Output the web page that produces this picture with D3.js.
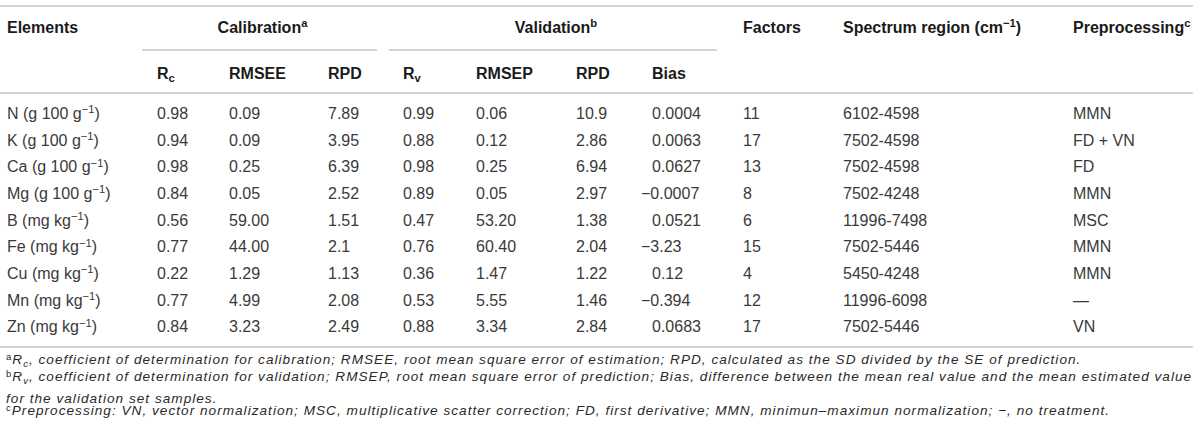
<!DOCTYPE html>
<html>
<head>
<meta charset="utf-8">
<script src="https://cdn.jsdelivr.net/npm/d3@7"></script>
<style>
  html, body { margin: 0; padding: 0; background: #fff; }
  svg { display: block; font-family: "Liberation Sans", Arial, Helvetica, sans-serif; }
</style>
</head>
<body>
<svg id="chart" width="1200" height="441"></svg>
<script>
// table values
const elements = ["N", "K", "Ca", "Mg", "B", "Fe", "Cu", "Mn", "Zn"];
const units = ["g 100 g", "g 100 g", "g 100 g", "g 100 g", "mg kg", "mg kg", "mg kg", "mg kg", "mg kg"];
const rc = ["0.98", "0.94", "0.98", "0.84", "0.56", "0.77", "0.22", "0.77", "0.84"];
const rmsee = ["0.09", "0.09", "0.25", "0.05", "59.00", "44.00", "1.29", "4.99", "3.23"];
const rpdCal = ["7.89", "3.95", "6.39", "2.52", "1.51", "2.1", "1.13", "2.08", "2.49"];
const rv = ["0.99", "0.88", "0.98", "0.89", "0.47", "0.76", "0.36", "0.53", "0.88"];
const rmsep = ["0.06", "0.12", "0.25", "0.05", "53.20", "60.40", "1.47", "5.55", "3.34"];
const rpdVal = ["10.9", "2.86", "6.94", "2.97", "1.38", "2.04", "1.22", "1.46", "2.84"];
const bias = ["0.0004", "0.0063", "0.0627", "\u22120.0007", "0.0521", "\u22123.23", "0.12", "\u22120.394", "0.0683"];
const factors = ["11", "17", "13", "8", "6", "15", "4", "12", "17"];
const spectrum = ["6102-4598", "7502-4598", "7502-4598", "7502-4248", "11996-7498", "7502-5446", "5450-4248", "11996-6098", "7502-5446"];
const preprocessing = ["MMN", "FD + VN", "FD", "MMN", "MSC", "MMN", "MMN", "\u2014", "VN"];

const groupLabels = [{text: "Calibration", sup: "a"}, {text: "Validation", sup: "b"}];

const footnotes = [
  [{t: "a", sup: true, upright: true}, {t: "R"}, {t: "c", sub: true}, {t: ", coefficient of determination for calibration; RMSEE, root mean square error of estimation; RPD, calculated as the SD divided by the SE of prediction."}],
  [{t: "b", sup: true, upright: true}, {t: "R"}, {t: "v", sub: true}, {t: ", coefficient of determination for validation; RMSEP, root mean square error of prediction; Bias, difference between the mean real value and the mean estimated value"}],
  [{t: "for the validation set samples."}],
  [{t: "c", sup: true, upright: true}, {t: "Preprocessing: VN, vector normalization; MSC, multiplicative scatter correction; FD, first derivative; MMN, minimun\u2013maximun normalization; \u2212, no treatment."}]
];

// column layout
const columns = [
  {key: "elements", head: [{t: "Elements"}], headRow: 0},
  {key: "rc", head: [{t: "R"}, {t: "c", sub: true}], values: rc},
  {key: "rmsee", head: [{t: "RMSEE"}], values: rmsee},
  {key: "rpdCal", head: [{t: "RPD"}], values: rpdCal},
  {key: "rv", head: [{t: "R"}, {t: "v", sub: true}], values: rv},
  {key: "rmsep", head: [{t: "RMSEP"}], values: rmsep},
  {key: "rpdVal", head: [{t: "RPD"}], values: rpdVal},
  {key: "bias", head: [{t: "Bias"}], values: bias},
  {key: "factors", head: [{t: "Factors"}], values: factors, headRow: 0},
  {key: "spectrum", head: [{t: "Spectrum region (cm"}, {t: "\u22121", sup: true}, {t: ")"}], values: spectrum, headRow: 0},
  {key: "prep", head: [{t: "Preprocessing"}, {t: "c", sup: true}], values: preprocessing, headRow: 0}
];
const colX = d3.scaleOrdinal()
  .domain(columns.map(c => c.key))
  .range([7, 157, 229, 328, 403, 476, 576, 652, 743, 843, 1073]);

const svg = d3.select("#chart");
const tableLeft = 0, tableRight = 1193;
const fontSize = 16;
const noteSize = 13.6;
const ruleColor = "#c6c6c6";

const y = d3.scaleBand()
  .domain(elements)
  .range([100, 340]);

const headY = [27, 73];

// writes a list of segments into a text node, with sub/superscripts
function segments(text, segs, size, raise = 0.36) {
  let off = 0;
  segs.forEach(s => {
    const target = s.sup ? -size * raise : s.sub ? size * 0.22 : 0;
    const sp = text.append("tspan").text(s.t);
    if (target - off !== 0) sp.attr("dy", target - off);
    sp.attr("font-size", (s.sup || s.sub) ? size * 0.7 : size);
    if (s.upright) sp.attr("font-style", "normal");
    off = target;
  });
}

// rules
const rules = svg.append("g").attr("stroke", ruleColor).attr("stroke-width", 1.6);
[6, 93, 347].forEach(yy => {
  rules.append("line").attr("x1", tableLeft).attr("x2", tableRight).attr("y1", yy).attr("y2", yy);
});
const groupSpan = [[142, 377], [389, 717]];
groupLabels.forEach((g, i) => {
  rules.append("line")
    .attr("x1", groupSpan[i][0]).attr("x2", groupSpan[i][1])
    .attr("y1", 50).attr("y2", 50);
  const t = svg.append("text")
    .attr("x", (groupSpan[i][0] + groupSpan[i][1]) / 2 + 3)
    .attr("y", headY[0])
    .attr("dy", "0.35em")
    .attr("text-anchor", "middle")
    .attr("font-size", fontSize)
    .attr("font-weight", "bold")
    .attr("fill", "#1a1a1a");
  segments(t, [{t: g.text}, {t: g.sup, sup: true}], fontSize);
});

// header cells
columns.forEach(c => {
  const t = svg.append("text")
    .attr("x", colX(c.key))
    .attr("y", headY[c.headRow === 0 ? 0 : 1])
    .attr("dy", "0.35em")
    .attr("font-size", fontSize)
    .attr("font-weight", "bold")
    .attr("fill", "#1a1a1a");
  segments(t, c.head, fontSize);
});

// body
const body = svg.append("g").attr("fill", "#3a3a3a");
body.selectAll("text.el")
  .data(elements)
  .enter()
  .append("text")
  .classed("el", true)
  .attr("x", colX("elements"))
  .attr("y", d => y(d) + y.bandwidth() / 2)
  .attr("dy", "0.35em")
  .attr("font-size", fontSize)
  .each(function(d, i) {
    segments(d3.select(this), [{t: d + " (" + units[i]}, {t: "\u22121", sup: true}, {t: ")"}], fontSize);
  });

columns.filter(c => c.values).forEach(c => {
  body.selectAll("text." + c.key)
    .data(c.values)
    .enter()
    .append("text")
    .classed(c.key, true)
    // negative numbers hang their minus sign left of the column
    .attr("x", d => colX(c.key) - (d.startsWith("\u2212") ? 11 : 0))
    .attr("y", (d, i) => y(elements[i]) + y.bandwidth() / 2)
    .attr("dy", "0.35em")
    .attr("font-size", fontSize)
    .text(d => d);
});

// footnotes; letter spacing widened so the long second line fills the table width
const notes = svg.append("g").attr("fill", "#2a2a2a").attr("font-style", "italic");
const noteY = d3.scalePoint().domain(d3.range(footnotes.length)).range([364, 415]);
const noteText = notes.selectAll("text")
  .data(footnotes)
  .enter()
  .append("text")
  .attr("x", 6)
  .attr("y", (d, i) => noteY(i))
  .attr("dy", "0.35em")
  .attr("font-size", noteSize)
  .each(function(d) { segments(d3.select(this), d, noteSize, 0.3); });

const longLine = noteText.nodes()[1];
const chars = footnotes[1].map(s => s.t).join("").length;
const spacing = Math.max(0, (tableRight - 7 - longLine.getBBox().width) / chars);
noteText.attr("letter-spacing", spacing.toFixed(2));
</script>
</body>
</html>
